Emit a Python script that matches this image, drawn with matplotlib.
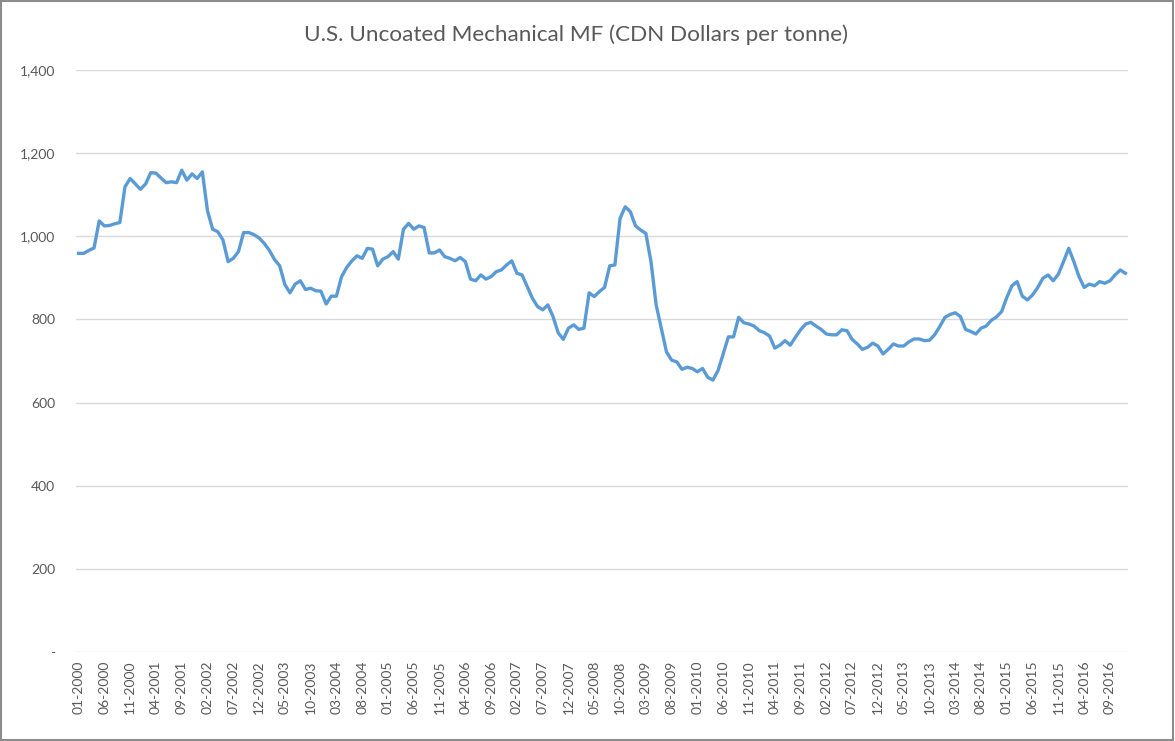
import pandas as pd
import matplotlib.pyplot as plt
from matplotlib.patches import Rectangle
from matplotlib.ticker import FuncFormatter

# Monthly price, 01-2000 .. 12-2016 (CDN $ per tonne)
start_month = "2000-01"
prices = [
    959, 959, 966, 972, 1037, 1025, 1026, 1030, 1033, 1119,
    1139, 1126, 1113, 1126, 1153, 1152, 1140, 1129, 1131, 1129,
    1159, 1135, 1150, 1139, 1155, 1061, 1017, 1011, 991, 939,
    947, 963, 1009, 1009, 1004, 996, 983, 966, 944, 929,
    884, 864, 885, 893, 872, 875, 869, 868, 837, 856,
    856, 903, 925, 941, 953, 947, 971, 969, 929, 945,
    951, 963, 945, 1017, 1031, 1017, 1025, 1021, 960, 960,
    967, 951, 947, 941, 949, 939, 897, 893, 907, 897,
    903, 915, 919, 931, 941, 911, 907, 879, 851, 831,
    823, 835, 807, 768, 752, 779, 787, 776, 779, 864,
    855, 867, 877, 929, 931, 1043, 1071, 1059, 1025, 1015,
    1007, 939, 835, 779, 722, 702, 698, 680, 685, 682,
    674, 682, 661, 654, 677, 717, 758, 758, 805, 792,
    789, 784, 773, 768, 760, 731, 738, 749, 738, 757,
    775, 789, 793, 784, 776, 765, 763, 763, 775, 773,
    752, 741, 728, 733, 743, 736, 717, 728, 741, 736,
    736, 746, 753, 753, 749, 750, 763, 783, 805, 812,
    816, 807, 776, 771, 765, 779, 784, 798, 806, 819,
    853, 881, 891, 856, 847, 859, 877, 899, 907, 893,
    909, 939, 971, 939, 903, 877, 885, 881, 891, 887,
    893, 907, 919, 911,
]
months = pd.date_range(start_month, periods=len(prices), freq="MS").strftime("%m-%Y").tolist()
y_ticks = [0, 200, 400, 600, 800, 1000, 1200, 1400]
title = "U.S. Uncoated Mechanical MF (CDN Dollars per tonne)"

plt.rcParams["font.family"] = ["Lato", "DejaVu Sans"]

fig = plt.figure(figsize=(11.75, 7.41), dpi=100)
ax = fig.add_axes([76 / 1175, 1 - 652 / 741, (1128 - 76) / 1175, (652 - 70) / 741])

x = list(range(len(prices)))
ax.plot(x, prices, color="#5B9BD5", linewidth=2.4, solid_joinstyle="round", zorder=3)

# axes
ax.set_xlim(-0.5, len(prices) - 0.5)
ax.set_ylim(0, 1400)
ax.set_yticks(y_ticks)
ax.yaxis.set_major_formatter(FuncFormatter(lambda v, p: "-" if v == 0 else f"{v:,.0f}"))
ax.set_xticks(x[::5])
ax.set_xticklabels(months[::5], rotation=90)
ax.tick_params(axis="both", length=0, labelsize=10, colors="#595959")
ax.tick_params(axis="y", pad=15)
ax.tick_params(axis="x", pad=6)
ax.grid(axis="y", color="#D9D9D9", linewidth=1)
ax.set_axisbelow(True)
for s in ax.spines.values():
    s.set_visible(False)

fig.text(576 / 1175, 1 - 35 / 741, title, ha="center", va="center", fontsize=16.2, color="#595959")

# frame round the chart
fig.patches.append(Rectangle((0.001, 0.002), 0.997, 0.996, transform=fig.transFigure,
                             fill=False, edgecolor="#8C8C8C", linewidth=1.5))

fig.savefig("out.png", dpi=100)
